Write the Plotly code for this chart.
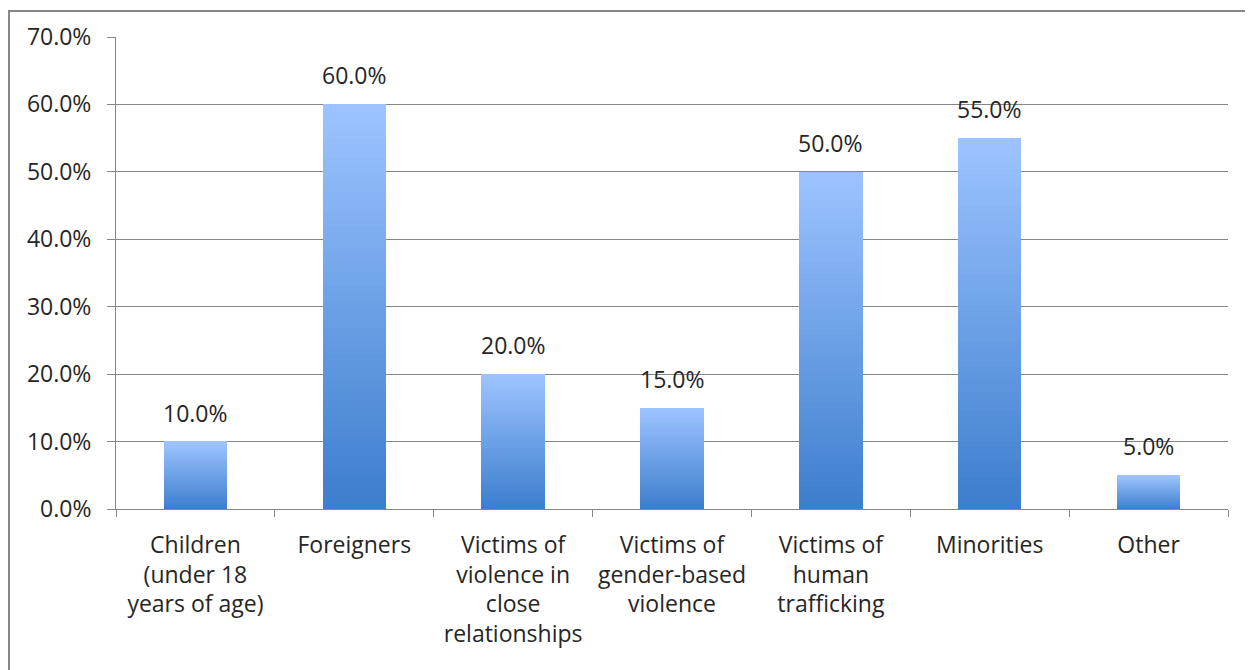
import plotly.graph_objects as go

categories = ["Children<br>(under 18<br>years of age)", "Foreigners",
              "Victims of<br>violence in<br>close<br>relationships",
              "Victims of<br>gender-based<br>violence",
              "Victims of<br>human<br>trafficking", "Minorities", "Other"]
values = [10.0, 60.0, 20.0, 15.0, 50.0, 55.0, 5.0]
tick_vals = [0, 10, 20, 30, 40, 50, 60, 70]
tick_text = ["0.0%", "10.0%", "20.0%", "30.0%", "40.0%", "50.0%", "60.0%", "70.0%"]

TOP = (157, 196, 255)
BOT = (60, 125, 205)
N = 60
FONT = "Open Sans"
FS = 23

fig = go.Figure()
for i in range(N):
    f = (i + 0.5) / N  # 0 bottom -> 1 top
    c = tuple(round(BOT[k] + (TOP[k] - BOT[k]) * f) for k in range(3))
    fig.add_trace(go.Bar(
        x=categories, y=[v / N for v in values],
        marker=dict(color="rgb(%d,%d,%d)" % c, line=dict(width=0)),
        showlegend=False, hoverinfo="skip"))

annotations = [dict(x=c, y=v, text="%.1f%%" % v, showarrow=False,
                    xref="x", yref="y", yanchor="bottom", yshift=11,
                    font=dict(size=FS, color="#262626", family=FONT))
               for c, v in zip(categories, values)]

fig.update_layout(
    width=1253, height=670, barmode="stack", bargap=0.6,
    margin=dict(l=108, r=33, t=27, b=169),
    plot_bgcolor="white", paper_bgcolor="white",
    font=dict(family=FONT, size=FS, color="#262626"),
    xaxis=dict(tickson="boundaries", ticks="outside", ticklen=7, tickcolor="#868686",
               showline=True, linecolor="#868686", linewidth=1, showgrid=False,
               ticklabelstandoff=15, tickfont=dict(size=FS)),
    yaxis=dict(range=[0, 70], tickvals=tick_vals, ticktext=tick_text,
               ticks="outside", ticklen=8, tickcolor="#868686",
               showline=True, linecolor="#868686", linewidth=1,
               showgrid=True, gridcolor="#868686", gridwidth=1,
               ticklabelstandoff=11,
               zeroline=False, tickfont=dict(size=FS)),
    annotations=annotations,
    shapes=[dict(type="rect", xref="paper", yref="paper",
                 x0=-0.0962, x1=1.06, y0=-0.45, y1=1.0549,
                 line=dict(color="#868686", width=2))],
)
fig.write_html("out.html")
